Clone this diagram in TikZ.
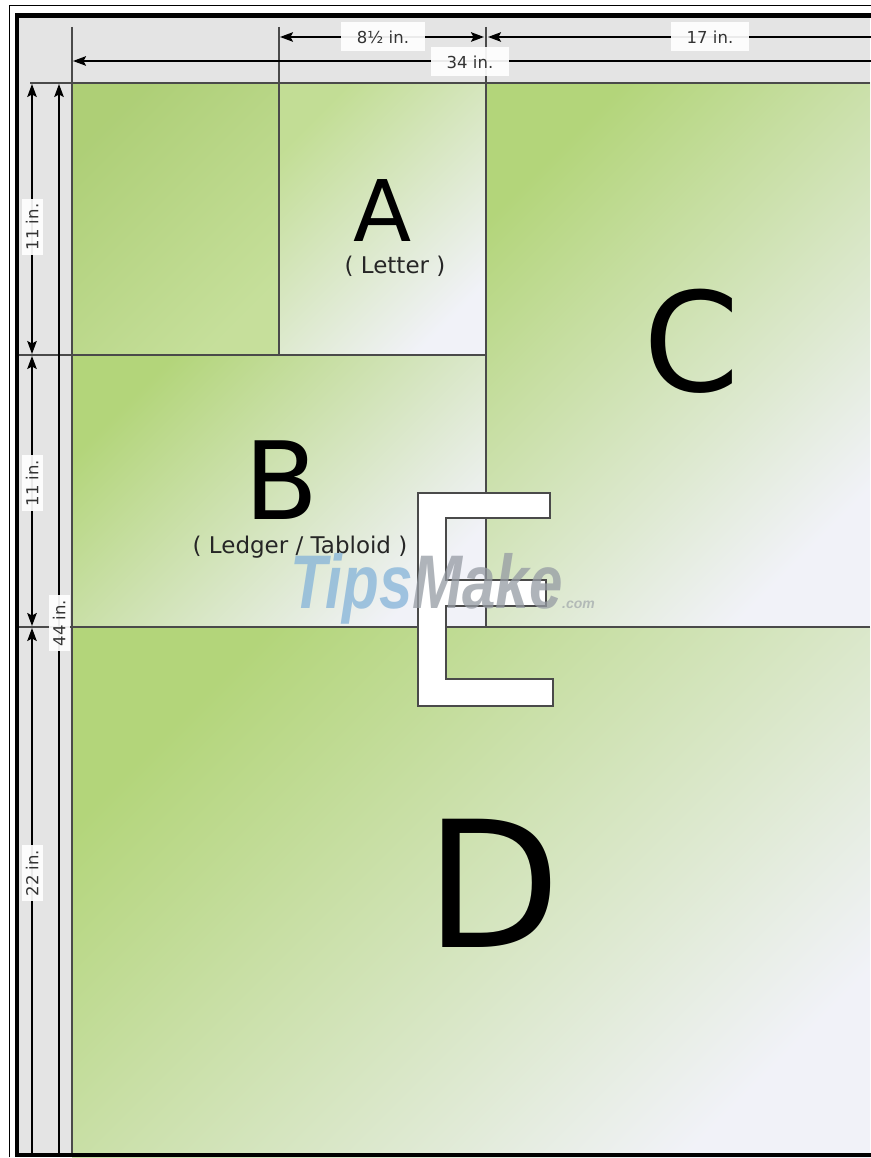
\documentclass[tikz,border=0pt]{standalone}
\usepackage{fontspec}
\setmainfont{DejaVu Sans}
\newfontfamily\wmfont{Liberation Sans}
\usetikzlibrary{arrows.meta}
\definecolor{bandgray}{HTML}{E4E4E4}
\definecolor{edgegray}{HTML}{4A4A4A}
\definecolor{dimtext}{HTML}{333333}
\definecolor{sheetgreen}{HTML}{B3D57A}
\definecolor{sheetlight}{HTML}{F1F2F8}
\definecolor{wmblue}{HTML}{84B3D9}
\definecolor{wmgray}{HTML}{959BA3}
\begin{document}
\begin{tikzpicture}[x=1pt,y=-1pt,
  >={Stealth[length=13pt,width=9.5pt,inset=2.5pt]},
  dimline/.style={line width=2pt, draw=black},
  edge/.style={line width=1.1pt, draw=edgegray},
  dimlabel/.style={fill=white, fill opacity=0.92, text opacity=1, text=dimtext,
    font=\fontsize{16.5}{16.5}\selectfont, inner xsep=16pt, inner ysep=0pt, minimum height=29pt},
  vlabel/.style={dimlabel, rotate=90, minimum height=21pt, inner xsep=5pt},
  bigletter/.style={anchor=base, text=black, inner sep=0pt},
  sublabel/.style={anchor=base, text=black!85, inner sep=0pt, font=\fontsize{23}{23}\selectfont},
  sheet/.style 2 args={top color=#1, bottom color=#2, shading angle=45},
  frame/.style={draw=black}
]
\useasboundingbox (0,0) rectangle (870,1158);
\fill[white] (0,0) rectangle (870,1158);
\fill[bandgray] (17,15) rectangle (870,1155);

% sheets
\shade[sheet={sheetgreen!97!black}{sheetgreen!75!white}] (72,83) rectangle (279,355);
\shade[sheet={sheetgreen!80!white}{sheetlight}] (279,83) rectangle (486,355);
\shade[sheet={sheetgreen}{sheetlight}] (72,355) rectangle (486,627);
\shade[sheet={sheetgreen}{sheetlight}] (486,83) rectangle (870,627);
\shade[sheet={sheetgreen}{sheetlight}] (72,627) rectangle (870,1170);

% sheet edges and extension lines
\draw[edge] (72,27) -- (72,1155);
\draw[edge] (279,27) -- (279,355);
\draw[edge] (486,27) -- (486,627);
\draw[edge] (30,83) -- (870,83);
\draw[edge] (19,355) -- (486,355);
\draw[edge] (19,627) -- (870,627);

% dimension arrows
\coordinate (t8a) at (280,37);
\coordinate (t8b) at (484,37);
\coordinate (t17a) at (488,37);
\coordinate (t17b) at (871,37);
\coordinate (t34a) at (73,61);
\coordinate (t34b) at (871,61);
\coordinate (l11a) at (32,84);
\coordinate (l11b) at (32,354);
\coordinate (l11c) at (32,356);
\coordinate (l11d) at (32,626);
\coordinate (l22a) at (32,628);
\coordinate (l22b) at (32,1155);
\coordinate (l44a) at (59,84);
\coordinate (l44b) at (59,1155);
\draw[dimline,<->] (t8a) -- (t8b);
\draw[dimline,<-] (t17a) -- (t17b);
\draw[dimline,<-] (t34a) -- (t34b);
\draw[dimline,<->] (l11a) -- (l11b);
\draw[dimline,<->] (l11c) -- (l11d);
\draw[dimline,<-] (l22a) -- (l22b);
\draw[dimline,<-] (l44a) -- (l44b);

% dimension labels
\node[dimlabel] (d8) at (383,37) {8½ in.};
\node[dimlabel] (d17) at (710,37) {17 in.};
\node[dimlabel] (d34) at (470,62) {34 in.};
\node[vlabel] (d11a) at (32,227) {11 in.};
\node[vlabel] (d11b) at (32,483) {11 in.};
\node[vlabel] (d44) at (59,623) {44 in.};
\node[vlabel] (d22) at (32,873) {22 in.};

% frame
\draw[frame, line width=1.3pt] (9.5,1157) -- (9.5,5.5) -- (871,5.5);
\draw[frame, line width=4.5pt] (871,15.5) -- (17,15.5) -- (17,1155) -- (871,1155);

% big letters
\node[bigletter, font=\fontsize{85}{85}\selectfont] (la) at (383,241) {A};
\node[sublabel] (sa) at (395,273) {( Letter )};
\node[bigletter, font=\fontsize{108}{108}\selectfont] (lb) at (282,519) {B};
\node[sublabel] (sb) at (300,553) {( Ledger / Tabloid )};
\node[bigletter, font=\fontsize{138}{138}\selectfont] (lc) at (692,391) {C};
\node[bigletter, font=\fontsize{176}{176}\selectfont] (ld) at (493,947) {D};

% E outline
\draw[fill=white, draw=edgegray, line width=1.2pt]
  (418,493) -- (550,493) -- (550,518) -- (446,518) -- (446,580) -- (546,580)
  -- (546,606) -- (446,606) -- (446,679) -- (553,679) -- (553,706) -- (418,706) -- cycle;

% watermark
\node[anchor=base west, inner sep=0pt, xscale=0.79, opacity=0.75,
  font=\wmfont\bfseries\itshape\fontsize{76}{76}\selectfont] (wm) at (290,608)
  {\textcolor{wmblue}{Tips}\textcolor{wmgray}{Make}};
\node[anchor=base west, inner sep=0pt, opacity=0.6, text=wmgray,
  font=\wmfont\bfseries\itshape\fontsize{14}{14}\selectfont] (wmc) at (562,608) {.com};
\end{tikzpicture}
\end{document}
